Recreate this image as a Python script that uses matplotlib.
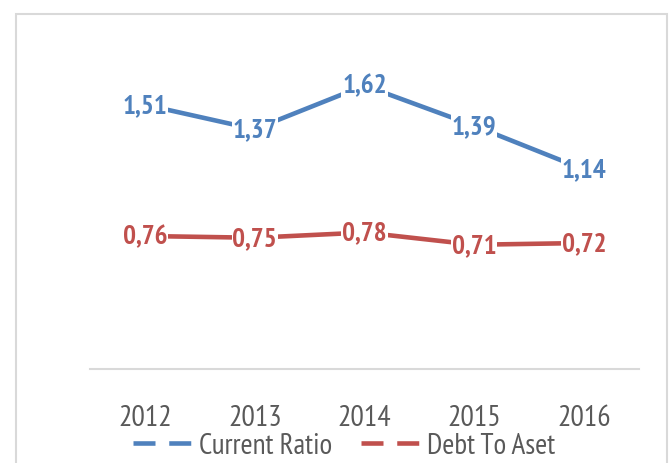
import matplotlib
matplotlib.use("Agg")
import matplotlib.pyplot as plt
from matplotlib.lines import Line2D
from matplotlib.patches import Rectangle

years = ["2012", "2013", "2014", "2015", "2016"]
current_ratio = [1.51, 1.37, 1.62, 1.39, 1.14]
debt_to_aset = [0.76, 0.75, 0.78, 0.71, 0.72]

blue = "#4F81BD"
red = "#C0504D"
grey_text = "#595959"

plt.rcParams["font.family"] = ["PT Sans Narrow", "DejaVu Sans"]

W, H = 671, 464
fig = plt.figure(figsize=(W / 100, H / 100), dpi=100)

# chart border (bottom edge falls outside the picture)
fig.patches.append(Rectangle((16 / W, -0.1), (667 - 16) / W, 1.1 - 15 / H,
                             transform=fig.transFigure, fill=False,
                             ec="#D9D9D9", lw=1.5))

ax = fig.add_axes([90 / W, (H - 370) / H, (639 - 90) / W, (370 - 55) / H])
x = list(range(len(years)))

ax.plot(x, current_ratio, color=blue, lw=3.3, solid_capstyle="butt", zorder=2)
ax.plot(x, debt_to_aset, color=red, lw=3.3, solid_capstyle="butt", zorder=2)


def label(values, color):
    for xi, v in zip(x, values):
        ax.text(xi, v, f"{v:.2f}".replace(".", ","), color=color, fontsize=19.5,
                fontweight="bold", ha="center", va="center", zorder=3,
                bbox=dict(fc="white", ec="none", pad=0.6))


label(current_ratio, blue)
label(debt_to_aset, red)

ax.set_xlim(-0.5, 4.5)
ax.set_ylim(0, 1.8)
ax.set_xticks(x)
ax.set_xticklabels(years, fontsize=21.5, color=grey_text)
ax.tick_params(axis="x", length=0, pad=25)
ax.set_yticks([])
for side in ["left", "right", "top"]:
    ax.spines[side].set_visible(False)
ax.spines["bottom"].set_color("#D9D9D9")
ax.spines["bottom"].set_linewidth(1.5)

dash = (0, (4.8, 3.0))
handles = [Line2D([], [], color=blue, lw=3.3, linestyle=dash),
           Line2D([], [], color=red, lw=3.3, linestyle=dash)]
fig.legend(handles, ["Current Ratio", "Debt To Aset"], loc="center",
           bbox_to_anchor=(0.513, 1 - 447 / H), ncol=2, frameon=False,
           fontsize=21, labelcolor=grey_text, handlelength=2.0,
           handletextpad=0.25, columnspacing=1.0, borderpad=0)

fig.savefig("out.png", dpi=100)
